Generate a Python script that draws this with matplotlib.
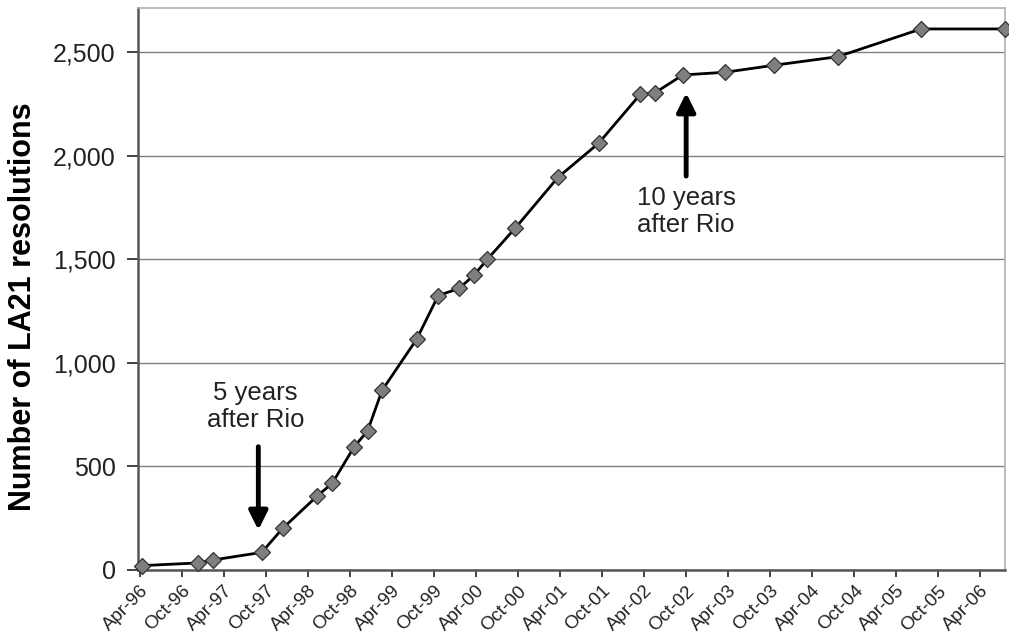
import pandas as pd
import matplotlib
matplotlib.use('Agg')
import matplotlib.pyplot as plt
import matplotlib.dates as mdates
from matplotlib.ticker import FuncFormatter

plt.rcParams['font.family'] = ['Liberation Sans', 'DejaVu Sans']

# survey dates and cumulative number of LA21 resolutions
dates = ['1996-04-08', '1996-12-10', '1997-02-11', '1997-09-12', '1997-12-12',
         '1998-05-11', '1998-07-15', '1998-10-19', '1998-12-16', '1999-02-17',
         '1999-07-17', '1999-10-19', '2000-01-18', '2000-03-22', '2000-05-20',
         '2000-09-19', '2001-03-23', '2001-09-15', '2002-03-16', '2002-05-17',
         '2002-09-17', '2003-03-20', '2003-10-19', '2004-07-21', '2005-07-18',
         '2006-07-18']
resolutions = [21, 34, 48, 85, 201, 357, 418, 595, 671, 867,
               1113, 1324, 1359, 1422, 1500, 1651, 1895, 2059, 2296, 2302,
               2389, 2402, 2436, 2477, 2611, 2611]
y_ticks = [0, 500, 1000, 1500, 2000, 2500]

x = pd.to_datetime(dates)

fig = plt.figure(figsize=(10.09, 6.36), dpi=100)
ax = fig.add_axes([0.1368, 0.1038, 0.8592, 0.8836])

ax.plot(x, resolutions, color='black', linewidth=2.0, marker='D', markersize=7.8,
        markerfacecolor='#7f7f7f', markeredgecolor='#333333', markeredgewidth=0.9,
        zorder=3, clip_on=False)

ax.set_xlim(pd.Timestamp('1996-03-23'), pd.Timestamp('2006-07-18'))
ax.set_ylim(0, 2712)
ax.set_yticks(y_ticks)
ax.yaxis.set_major_formatter(FuncFormatter(lambda v, p: f'{int(v):,}'))
ax.yaxis.grid(True, color='#808080', linewidth=1.0)
ax.set_axisbelow(True)

ax.xaxis.set_major_locator(mdates.MonthLocator(bymonth=[4, 10]))
ax.xaxis.set_major_formatter(mdates.DateFormatter('%b-%y'))
for lab in ax.get_xticklabels():
    lab.set_rotation(45)
    lab.set_ha('right')
    lab.set_rotation_mode('anchor')
ax.tick_params(axis='x', labelsize=13.5, direction='out', length=5, width=1.2,
               colors='#222222', pad=4)
ax.tick_params(axis='y', labelsize=18, direction='out', length=8, width=1.2,
               colors='#222222', pad=8)

ax.set_ylabel('Number of LA21 resolutions', fontsize=22, fontweight='bold')
ax.yaxis.set_label_coords(-0.115, 0.469)

for side in ['left', 'bottom']:
    ax.spines[side].set_color('#555555')
    ax.spines[side].set_linewidth(1.8)
for side in ['top', 'right']:
    ax.spines[side].set_color('#b0b0b0')
    ax.spines[side].set_linewidth(1.2)

arrow = dict(arrowstyle='-|>', lw=3.5, color='black', mutation_scale=28,
             shrinkA=0, shrinkB=0)
ax.annotate('', xy=(pd.Timestamp('1997-08-28'), 193),
            xytext=(pd.Timestamp('1997-08-28'), 595), arrowprops=arrow)
ax.text(pd.Timestamp('1997-08-15'), 791, '5 years\nafter Rio', fontsize=18.5,
        ha='center', va='center', color='#222222', linespacing=1.15)

ax.annotate('', xy=(pd.Timestamp('2002-10-01'), 2302),
            xytext=(pd.Timestamp('2002-10-01'), 1901), arrowprops=arrow)
ax.text(pd.Timestamp('2002-10-01'), 1728, '10 years\nafter Rio', fontsize=18.5,
        ha='center', va='center', color='#222222', linespacing=1.15)

fig.savefig('out.png', dpi=100)
